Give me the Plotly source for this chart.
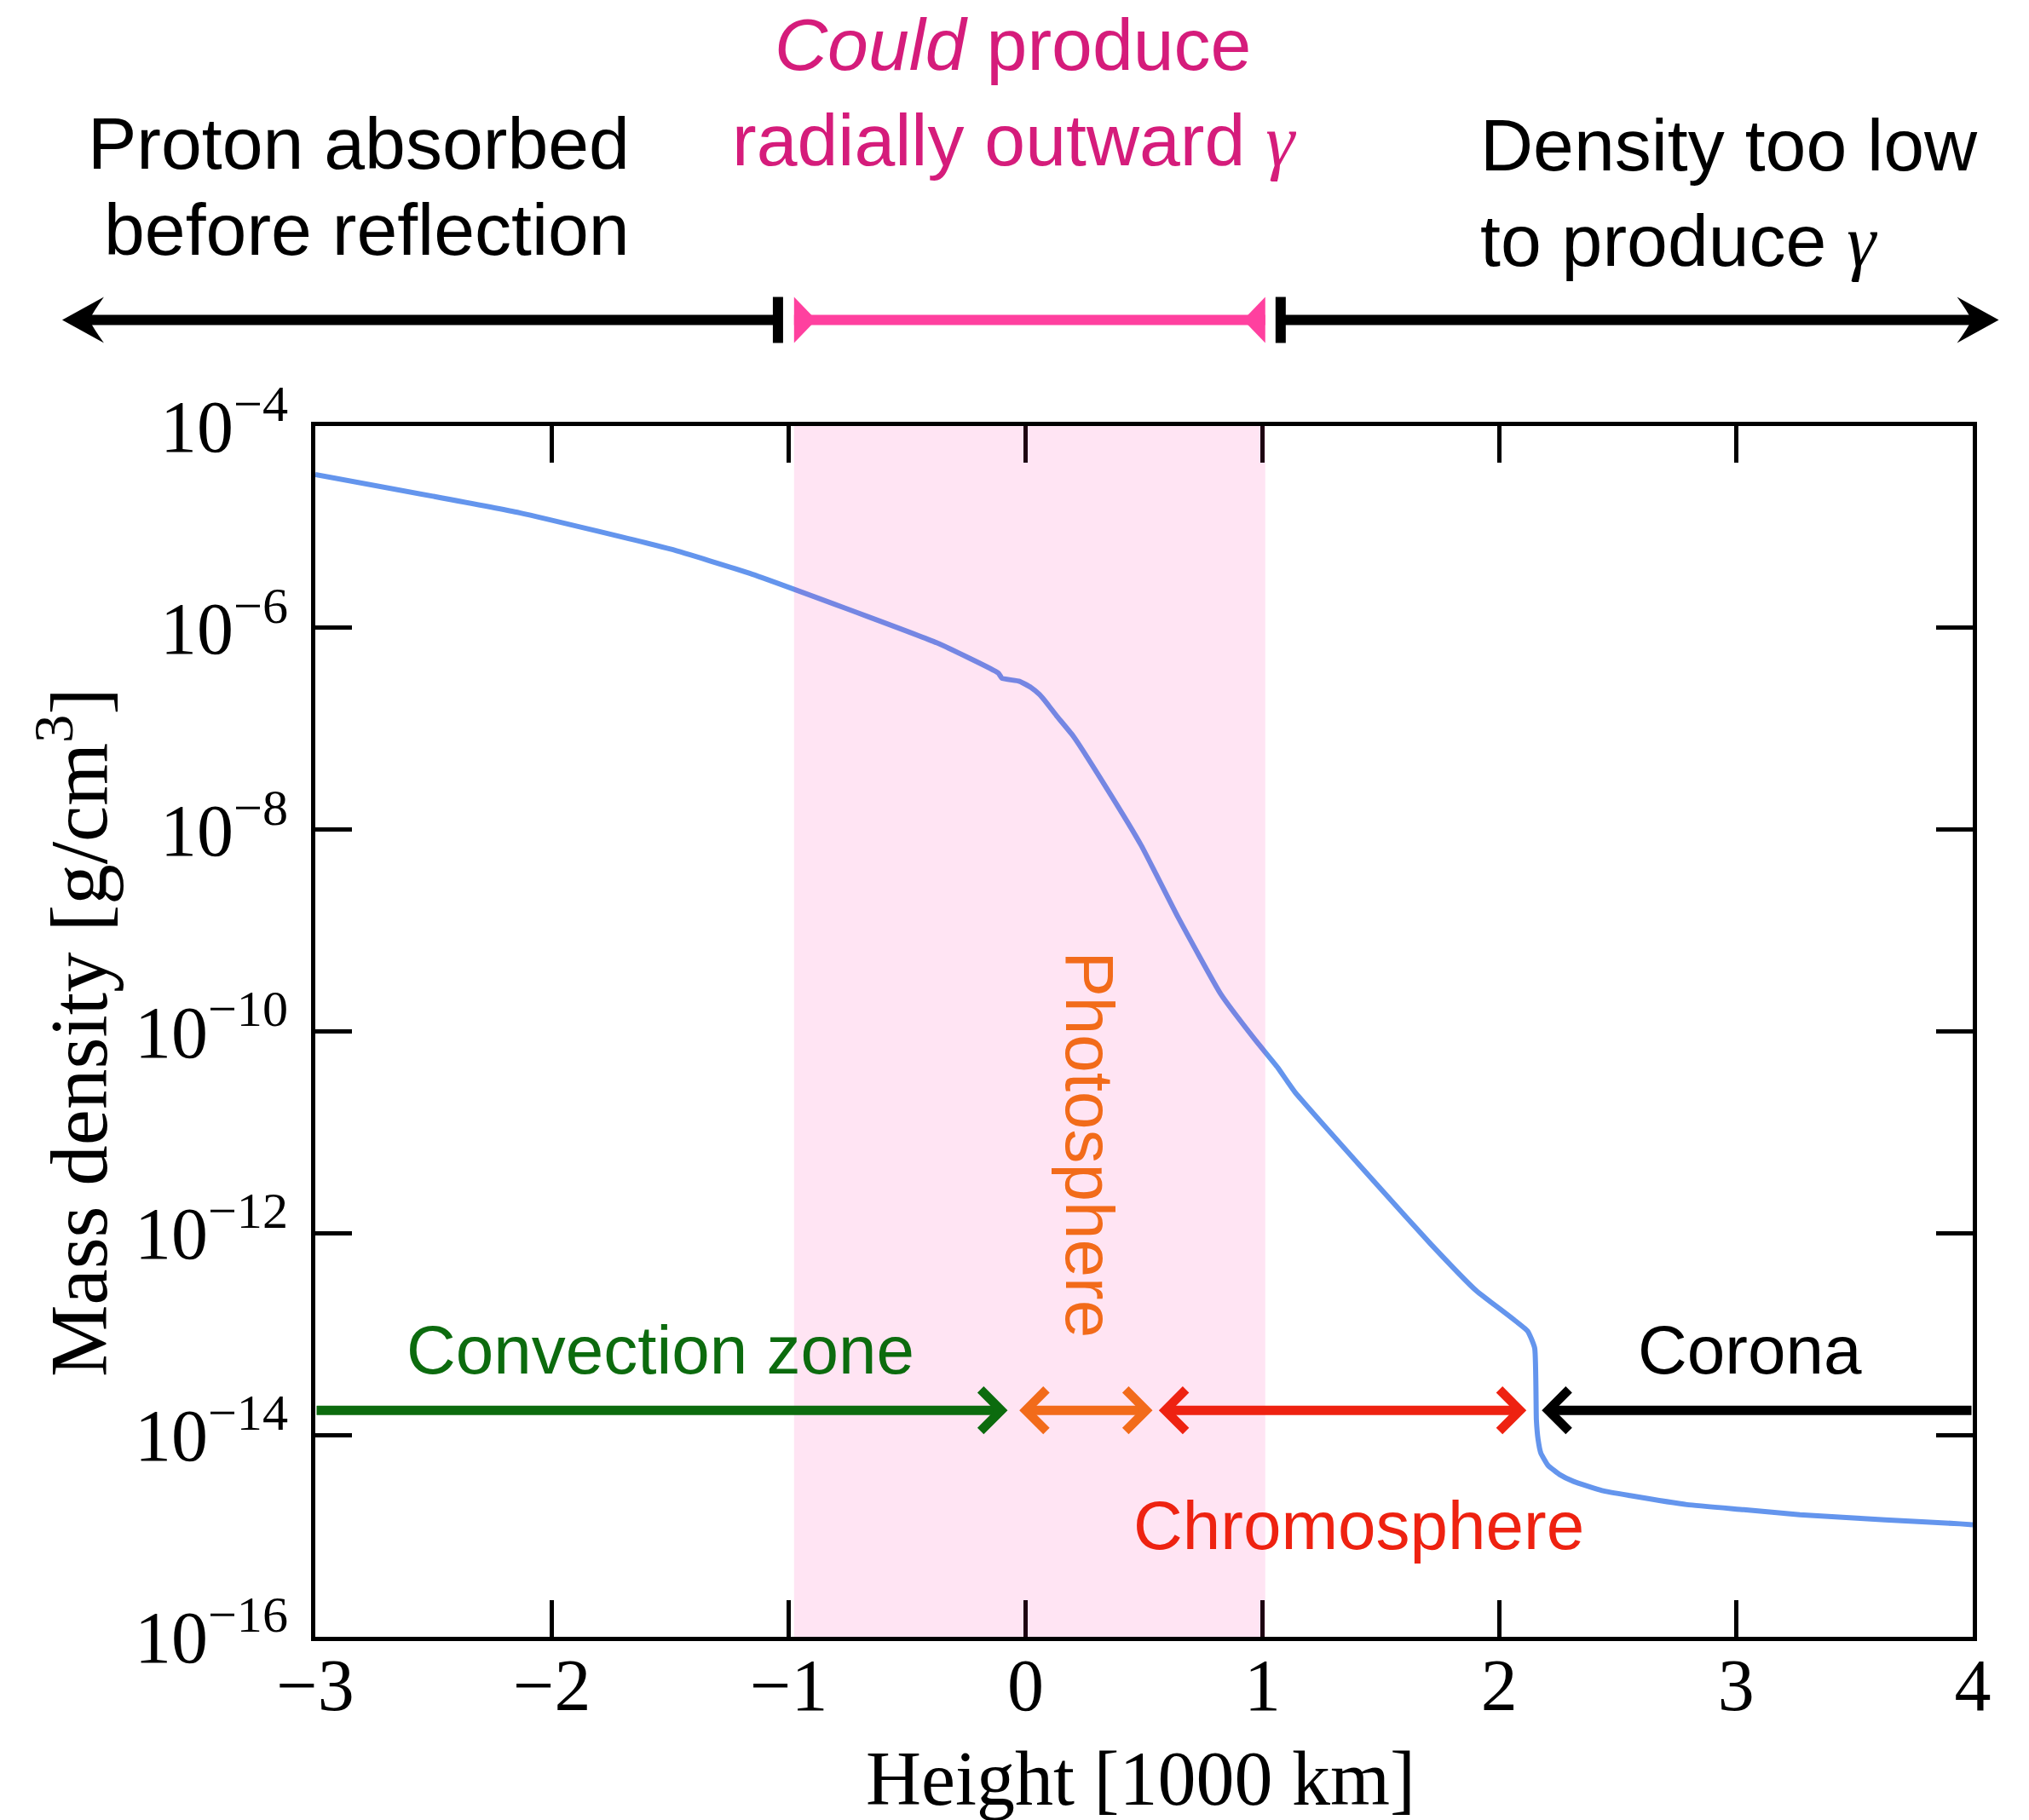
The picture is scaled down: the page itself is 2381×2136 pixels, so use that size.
import plotly.graph_objects as go

# ---- data -----------------------------------------------------------------
# Height above the photosphere [1000 km] and log10 of the mass density [g/cm^3]
height = [-3.0, -2.137, -1.50, -1.165, -0.374, -0.116, -0.10, -0.026, 0.022,
          0.058, 0.094, 0.13, 0.20, 0.345, 0.489, 0.644, 0.824, 0.968, 1.065,
          1.137, 1.507, 1.712, 1.903, 2.12, 2.15, 2.157, 2.164, 2.176,
          2.206, 2.254, 2.314, 2.434, 2.553, 2.793, 3.033, 3.27, 3.63, 3.945,
          4.0]
log_density = [-4.48, -4.86, -5.22, -5.46, -6.15, -6.447, -6.50, -6.53, -6.59,
               -6.66, -6.76, -6.87, -7.07, -7.60, -8.16, -8.87, -9.63, -10.08,
               -10.36, -10.60, -11.58, -12.11, -12.57, -12.97, -13.14,
               -13.85, -14.04, -14.18, -14.30, -14.39, -14.46, -14.55, -14.60,
               -14.69, -14.74, -14.79, -14.84, -14.88, -14.89]
density = [10 ** v for v in log_density]

# Height band where radially outward gamma rays could be produced
gamma_zone = [-0.978, 1.012]
# Bands shown above the plot: absorbed (left) and too thin (right)
absorbed_band = [-4.069, -1.046]
thin_band = [1.077, 4.11]

# Solar layers along the arrow row
layer_names = ["Convection zone", "Photosphere", "Chromosphere", "Corona"]
layer_tail = [-3.0, -0.032, 0.557, 4.0]
layer_head = [-0.076, 0.536, 2.115, 2.18]
layer_colors = ["#0c6b0e", "#f26b1a", "#ee2211", "#000000"]
layer_double = [False, True, True, False]
arrow_row_log = -13.755

x_range = [-3, 4]
y_decades = [-16, -14, -12, -10, -8, -6, -4]
y_ticktext = ["10<sup>\u2212%d</sup>" % (-d) for d in y_decades]

# ---- geometry -------------------------------------------------------------
W, H = 2381, 2136
L, R, T, B = 370, 66, 500, 215
PW, PH = W - L - R, H - T - B

SANS = "Liberation Sans, Arial, Helvetica, sans-serif"
SERIF = "Liberation Serif, Times New Roman, serif"
PINK_TEXT = "#d51c7b"
PINK_LINE = "#ff409f"


def xp(px):
    return (px - L) / PW


def yp(py):
    return (H - B - py) / PH


def dx(x):
    return (x - x_range[0]) / (x_range[1] - x_range[0])


fig = go.Figure()
fig.add_trace(go.Scatter(x=height, y=density, mode="lines",
                         line=dict(color="#6495ed", width=6, shape="spline",
                                   smoothing=0.4),
                         showlegend=False, hoverinfo="skip"))

shapes = []
# translucent pink band over the gamma-producing heights
shapes.append(dict(type="rect", xref="x", yref="paper",
                   x0=gamma_zone[0], x1=gamma_zone[1], y0=0, y1=1,
                   fillcolor="rgba(255,20,147,0.115)", line=dict(width=0),
                   layer="above"))

# arrow bar above the axes
ybar = yp(375.5)
half = 27
lw = 12
# left black arrow
shapes.append(dict(type="line", xref="paper", yref="paper",
                   x0=dx(absorbed_band[0]) + 28 / PW, x1=dx(absorbed_band[1]),
                   y0=ybar, y1=ybar, line=dict(color="black", width=lw)))
shapes.append(dict(type="path", xref="paper", yref="paper",
                   xsizemode="pixel", ysizemode="pixel",
                   xanchor=dx(absorbed_band[0]), yanchor=ybar,
                   path="M0,0 L49,27 Q36,9 32,0 Q36,-9 49,-27 Z",
                   fillcolor="black", line=dict(width=0)))
shapes.append(dict(type="line", xref="paper", yref="paper",
                   x0=dx(absorbed_band[1]), x1=dx(absorbed_band[1]),
                   y0=ybar - half / PH, y1=ybar + half / PH,
                   line=dict(color="black", width=lw)))
# right black arrow
shapes.append(dict(type="line", xref="paper", yref="paper",
                   x0=dx(thin_band[0]), x1=dx(thin_band[1]) - 28 / PW,
                   y0=ybar, y1=ybar, line=dict(color="black", width=lw)))
shapes.append(dict(type="path", xref="paper", yref="paper",
                   xsizemode="pixel", ysizemode="pixel",
                   xanchor=dx(thin_band[1]), yanchor=ybar,
                   path="M0,0 L-49,27 Q-36,9 -32,0 Q-36,-9 -49,-27 Z",
                   fillcolor="black", line=dict(width=0)))
shapes.append(dict(type="line", xref="paper", yref="paper",
                   x0=dx(thin_band[0]), x1=dx(thin_band[0]),
                   y0=ybar - half / PH, y1=ybar + half / PH,
                   line=dict(color="black", width=lw)))
# pink bracket
shapes.append(dict(type="line", xref="paper", yref="paper",
                   x0=dx(gamma_zone[0]), x1=dx(gamma_zone[1]),
                   y0=ybar, y1=ybar, line=dict(color=PINK_LINE, width=lw)))
shapes.append(dict(type="path", xref="paper", yref="paper",
                   xsizemode="pixel", ysizemode="pixel",
                   xanchor=dx(gamma_zone[0]), yanchor=ybar,
                   path="M0,27 L0,-27 L26,0 Z",
                   fillcolor=PINK_LINE, line=dict(width=0)))
shapes.append(dict(type="path", xref="paper", yref="paper",
                   xsizemode="pixel", ysizemode="pixel",
                   xanchor=dx(gamma_zone[1]), yanchor=ybar,
                   path="M0,27 L0,-27 L-26,0 Z",
                   fillcolor=PINK_LINE, line=dict(width=0)))

annotations = []


def text(label, px, baseline, size, color="black", anchor="center",
         family=SANS, angle=0):
    if angle == 0:
        y = yp(baseline - 0.3465 * size)
    else:
        y = yp(baseline)
    annotations.append(dict(text=label, x=xp(px), y=y, xref="paper", yref="paper",
                            xanchor=anchor, yanchor="middle", showarrow=False,
                            textangle=angle,
                            font=dict(family=family, size=size, color=color)))


gamma = "<span style=\"font-family:'Liberation Serif'\"><i>\u03b3</i></span>"
text("Proton absorbed", 741, 198, 86, anchor="right")
text("before reflection", 741, 299, 86, anchor="right")
text("<i>Could</i> produce", 1188, 82, 86, color=PINK_TEXT)
text("radially outward " + gamma, 1190, 194, 86, color=PINK_TEXT)
text("Density too low", 1735, 200, 86, anchor="left")
text("to produce " + gamma, 1735, 312, 86, anchor="left")

# layer labels inside the axes
text(layer_names[0], 775, 1612, 80, color=layer_colors[0])
text(layer_names[3], 2053, 1612, 80, color=layer_colors[3])
text(layer_names[2], 1594, 1818, 80, color=layer_colors[2])
text(layer_names[1], 1278, 1343.5, 80, color=layer_colors[1], angle=90)

# layer arrows
for tail, head, col, dbl in zip(layer_tail, layer_head, layer_colors, layer_double):
    annotations.append(dict(x=head, y=arrow_row_log, ax=tail, ay=arrow_row_log,
                            xref="x", yref="y", axref="x", ayref="y", text="",
                            showarrow=True, arrowhead=4, startarrowhead=4,
                            arrowside="end+start" if dbl else "end",
                            arrowsize=0.85, startarrowsize=0.85,
                            arrowwidth=11, arrowcolor=col,
                            standoff=0, startstandoff=0))

# axis titles
annotations.append(dict(text="Height [1000 km]", x=xp(1338), y=yp(2118 - 0.3375 * 90),
                        xref="paper", yref="paper", showarrow=False,
                        xanchor="center", yanchor="middle",
                        font=dict(family=SERIF, size=90, color="black")))
annotations.append(dict(text="Mass density [g/cm<sup>3</sup>]", x=xp(86), y=yp(1212),
                        xref="paper", yref="paper", showarrow=False,
                        xanchor="center", yanchor="middle", textangle=-90,
                        font=dict(family=SERIF, size=95, color="black")))

axis_common = dict(showline=True, linecolor="black", linewidth=4.5,
                   mirror="ticks", ticks="inside", ticklen=43, tickwidth=4.5,
                   tickcolor="black", showgrid=False, zeroline=False,
                   tickfont=dict(family=SERIF, size=86, color="black"))

fig.update_layout(
    width=W, height=H,
    margin=dict(l=L, r=R, t=T, b=B),
    paper_bgcolor="white", plot_bgcolor="white",
    showlegend=False,
    xaxis=dict(range=x_range, tickmode="linear", tick0=-3, dtick=1,
               ticklabelstandoff=-22, **axis_common),
    yaxis=dict(type="log", range=[-16, -4],
               tickvals=[10 ** d for d in y_decades], ticktext=y_ticktext,
               ticklabelstandoff=10, **axis_common),
    shapes=shapes,
    annotations=annotations,
)

fig.write_html("out.html")
